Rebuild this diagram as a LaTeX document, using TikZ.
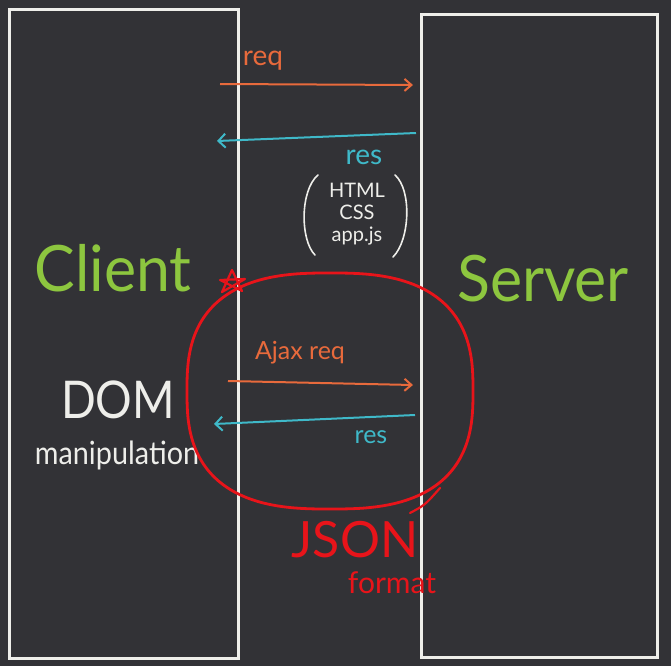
\documentclass[tikz,border=0pt]{standalone}
\usepackage{fontspec}
\setmainfont{Lato}
\usetikzlibrary{arrows.meta,shapes.geometric}
\definecolor{bg}{HTML}{323236}
\definecolor{reqc}{HTML}{E86A3C}
\definecolor{resc}{HTML}{3FB9C9}
\definecolor{grn}{HTML}{8DC63F}
\definecolor{redc}{HTML}{E8141A}
\definecolor{wht}{HTML}{EEEEEA}
\tikzset{
  box/.style={draw=wht, line width=2.6pt},
  reqarrow/.style={draw=reqc, line width=2pt, -{Straight Barb[length=7pt,width=12pt]}},
  resarrow/.style={draw=resc, line width=2pt, -{Straight Barb[length=7pt,width=14pt]}},
  lbl/.style={inner sep=0pt, anchor=center},
  paren/.style={draw=wht, line width=1.6pt, line cap=round},
}
\begin{document}
\begin{tikzpicture}[x=1pt,y=-1pt]
\fill[bg] (0,0) rectangle (671,666);
\useasboundingbox (0,0) rectangle (671,666);
% boxes
\node[box, minimum width=229pt, minimum height=649pt, anchor=north west, inner sep=0pt] (client) at (8,8) {};
\node[box, minimum width=236pt, minimum height=643pt, anchor=north west, inner sep=0pt] (server) at (420,13) {};
% labels
\node[lbl, text=grn, font=\fontsize{64}{64}\selectfont, xscale=0.95] (clientlbl) at (113,268) {Client};
\node[lbl, text=grn, font=\fontsize{64}{64}\selectfont, xscale=0.95] (serverlbl) at (543,279) {Server};
\node[lbl, text=wht, font=\fontsize{52}{52}\selectfont, xscale=0.88] (dom) at (118,400) {DOM};
\node[lbl, text=wht, font=\fontsize{32}{32}\selectfont, xscale=0.9] (manip) at (117,455) {manipulation};
% first exchange
\coordinate (r1s) at (220,84);
\coordinate (r1e) at (413,85);
\draw[reqarrow] (r1s) -- (r1e);
\node[lbl, text=reqc, font=\fontsize{28}{28}\selectfont] (reqlbl) at (263,61) {req};
\coordinate (s1s) at (416,133);
\coordinate (s1e) at (217,141);
\draw[resarrow] (s1s) -- (s1e);
\node[lbl, text=resc, font=\fontsize{28}{28}\selectfont] (reslbl) at (364,157) {res};
\node[lbl, text=wht, font=\fontsize{20}{22}\selectfont, align=center] (files) at (357,214) {HTML\\CSS\\app.js};
\draw[paren] (318,175) .. controls (300,190) and (300,240) .. (315,255);
\draw[paren] (395,175) .. controls (412,190) and (410,240) .. (393,257);
% red circle (superellipse)
\draw[redc, line width=2.8pt, line join=round] plot[domain=1:361, samples=121, smooth]
  ({330+143*sign(cos(\x))*abs(cos(\x))^0.75}, {391+118*sign(sin(\x))*abs(sin(\x))^0.75}) -- cycle;
\draw[redc, line width=2.2pt, line cap=round, line join=round] (222,292) -- (232,270) -- (242,291) -- (220,280) -- (245,279) -- cycle;
\draw[redc, line width=2.2pt, line cap=round] (410,513) .. controls (425,505) .. (440,488);
% second exchange
\node[lbl, text=reqc, font=\fontsize{25}{25}\selectfont] (ajaxlbl) at (300,353) {Ajax req};
\coordinate (r2s) at (228,381);
\coordinate (r2e) at (413,385);
\draw[reqarrow] (r2s) -- (r2e);
\coordinate (s2s) at (415,415);
\coordinate (s2e) at (214,424);
\draw[resarrow] (s2s) -- (s2e);
\node[lbl, text=resc, font=\fontsize{25}{25}\selectfont] (res2lbl) at (371,437) {res};
% JSON
\node[lbl, text=redc, font=\fontsize{50}{50}\selectfont] (json) at (355,540) {JSON};
\node[lbl, text=redc, font=\fontsize{30}{30}\selectfont] (fmt) at (392,583) {format};
\end{tikzpicture}
\end{document}
